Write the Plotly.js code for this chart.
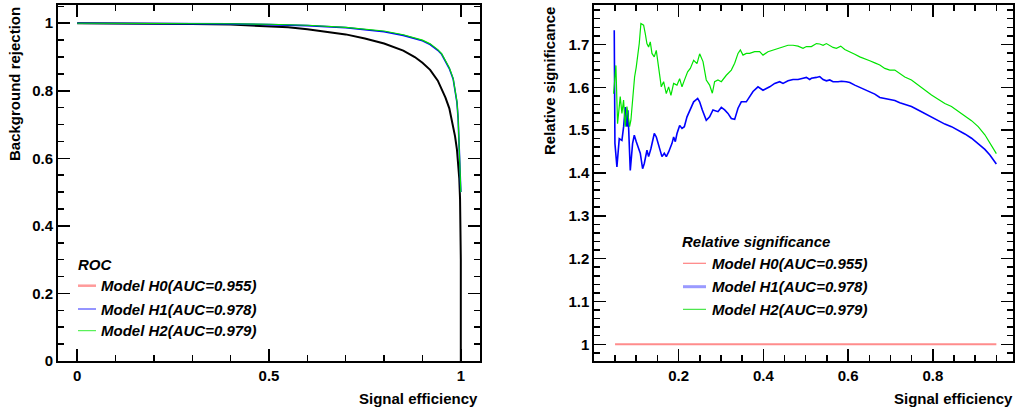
<!DOCTYPE html>
<html>
<head>
<meta charset="utf-8">
<script src="https://cdn.plot.ly/plotly-3.0.1.min.js"></script>
<style>html,body{margin:0;padding:0;background:#fff;}#chart{width:1019px;height:412px;}</style>
</head>
<body>
<div id="chart"></div>
<script>
// ---- data ----
const modelNames = ['Model H0(AUC=0.955)', 'Model H1(AUC=0.978)', 'Model H2(AUC=0.979)'];
const rocLegendTitle = 'ROC';
const sigLegendTitle = 'Relative significance';
const xTitle = 'Signal efficiency';
const rocYTitle = 'Background rejection';
const sigYTitle = 'Relative significance';

// ROC curves (signal efficiency vs background rejection)
const rocH0x = [0, 0.1, 0.2, 0.3, 0.4, 0.5, 0.55, 0.6, 0.65, 0.7, 0.75, 0.8, 0.85, 0.88, 0.9, 0.92, 0.94, 0.95, 0.96, 0.97, 0.975, 0.98, 0.985, 0.99, 0.993, 0.996, 0.998, 1.0, 1.0];
const rocH0y = [1, 0.9999, 0.9995, 0.998, 0.996, 0.992, 0.988, 0.982, 0.975, 0.967, 0.955, 0.94, 0.919, 0.9, 0.883, 0.862, 0.83, 0.806, 0.78, 0.748, 0.722, 0.695, 0.665, 0.625, 0.59, 0.54, 0.48, 0.3, 0];
const rocH1x = [0, 0.1, 0.2, 0.3, 0.4, 0.5, 0.6, 0.7, 0.75, 0.8, 0.85, 0.9, 0.92, 0.94, 0.95, 0.96, 0.97, 0.98, 0.985, 0.99, 0.993, 0.996, 0.998, 1.0];
const rocH1y = [1, 1, 0.9995, 0.999, 0.998, 0.996, 0.993, 0.987, 0.982, 0.975, 0.964, 0.948, 0.937, 0.92, 0.908, 0.888, 0.866, 0.835, 0.80, 0.765, 0.718, 0.64, 0.58, 0.5];
const rocH2x = [0, 0.1, 0.2, 0.3, 0.4, 0.5, 0.6, 0.7, 0.75, 0.8, 0.85, 0.9, 0.92, 0.94, 0.95, 0.96, 0.97, 0.98, 0.985, 0.99, 0.993, 0.996, 0.998, 1.0];
const rocH2y = [1, 1, 0.9996, 0.9992, 0.9985, 0.997, 0.994, 0.988, 0.983, 0.977, 0.966, 0.95, 0.939, 0.922, 0.91, 0.89, 0.868, 0.837, 0.802, 0.767, 0.72, 0.642, 0.582, 0.5];

// Relative significance curves
const sigH0x = [0.05, 0.95];
const sigH0y = [1, 1];
const sigH1x = [0.0481, 0.0497, 0.0544, 0.0599, 0.0662, 0.0702, 0.0741, 0.078, 0.0804, 0.0859, 0.0914, 0.0954, 0.1001, 0.1056, 0.1095, 0.115, 0.119, 0.1253, 0.1292, 0.1347, 0.1426, 0.1474, 0.1513, 0.1607, 0.1662, 0.171, 0.1765, 0.1844, 0.1883, 0.1922, 0.1962, 0.2025, 0.208, 0.2135, 0.2198, 0.2277, 0.2355, 0.245, 0.2496, 0.256, 0.2653, 0.2732, 0.2811, 0.2929, 0.3008, 0.3087, 0.3165, 0.3244, 0.3323, 0.3402, 0.348, 0.3598, 0.3677, 0.3756, 0.3874, 0.3992, 0.4071, 0.415, 0.4268, 0.4386, 0.4465, 0.4583, 0.4701, 0.4819, 0.4937, 0.5016, 0.5094, 0.5134, 0.5253, 0.5331, 0.541, 0.5489, 0.5568, 0.5646, 0.5764, 0.5843, 0.5961, 0.604, 0.6158, 0.6276, 0.6394, 0.6512, 0.6631, 0.6749, 0.6867, 0.6985, 0.7103, 0.7221, 0.7339, 0.7496, 0.7654, 0.7811, 0.7969, 0.8126, 0.8284, 0.8441, 0.8599, 0.8756, 0.8914, 0.9071, 0.9229, 0.9347, 0.9426, 0.95];
const sigH1y = [1.733, 1.469, 1.414, 1.480, 1.476, 1.508, 1.554, 1.508, 1.546, 1.406, 1.469, 1.488, 1.473, 1.457, 1.446, 1.410, 1.422, 1.453, 1.438, 1.457, 1.492, 1.484, 1.469, 1.438, 1.446, 1.438, 1.449, 1.469, 1.484, 1.473, 1.492, 1.511, 1.504, 1.508, 1.531, 1.550, 1.566, 1.574, 1.566, 1.547, 1.523, 1.531, 1.547, 1.543, 1.553, 1.547, 1.539, 1.527, 1.525, 1.551, 1.566, 1.566, 1.578, 1.590, 1.601, 1.593, 1.597, 1.601, 1.609, 1.613, 1.609, 1.615, 1.618, 1.618, 1.621, 1.623, 1.618, 1.621, 1.623, 1.625, 1.618, 1.615, 1.617, 1.613, 1.613, 1.614, 1.613, 1.611, 1.605, 1.600, 1.595, 1.590, 1.584, 1.576, 1.574, 1.572, 1.569, 1.564, 1.560, 1.555, 1.547, 1.539, 1.531, 1.523, 1.514, 1.508, 1.500, 1.491, 1.481, 1.469, 1.455, 1.442, 1.432, 1.421];
const sigH2x = [0.0465, 0.052, 0.0559, 0.0622, 0.0662, 0.0701, 0.074, 0.078, 0.0843, 0.0874, 0.0921, 0.0961, 0.1, 0.104, 0.1071, 0.111, 0.1174, 0.1213, 0.1252, 0.1292, 0.1331, 0.1371, 0.1425, 0.1473, 0.1512, 0.1551, 0.1591, 0.1646, 0.1709, 0.1764, 0.1819, 0.1882, 0.1961, 0.2024, 0.208, 0.2135, 0.2213, 0.2276, 0.2355, 0.2434, 0.2497, 0.2576, 0.2653, 0.2732, 0.2796, 0.285, 0.2929, 0.3008, 0.3126, 0.3244, 0.3323, 0.3402, 0.3457, 0.352, 0.3598, 0.3677, 0.3795, 0.3913, 0.3992, 0.411, 0.4228, 0.4346, 0.4465, 0.4583, 0.4701, 0.4819, 0.4937, 0.5016, 0.5134, 0.5253, 0.5331, 0.541, 0.5489, 0.5568, 0.5646, 0.5725, 0.5827, 0.5922, 0.604, 0.6158, 0.6276, 0.6394, 0.6512, 0.6631, 0.6749, 0.6867, 0.6985, 0.7103, 0.7221, 0.7339, 0.7496, 0.7654, 0.7811, 0.7969, 0.8126, 0.8284, 0.8441, 0.8599, 0.8756, 0.8914, 0.9071, 0.9229, 0.9347, 0.9426, 0.95];
const sigH2y = [1.585, 1.651, 1.515, 1.578, 1.539, 1.570, 1.508, 1.555, 1.508, 1.523, 1.578, 1.624, 1.647, 1.679, 1.702, 1.749, 1.745, 1.725, 1.702, 1.694, 1.706, 1.679, 1.671, 1.686, 1.659, 1.636, 1.601, 1.613, 1.585, 1.601, 1.581, 1.609, 1.605, 1.620, 1.601, 1.616, 1.636, 1.644, 1.663, 1.655, 1.678, 1.660, 1.617, 1.605, 1.586, 1.613, 1.617, 1.613, 1.628, 1.640, 1.656, 1.679, 1.687, 1.675, 1.679, 1.679, 1.683, 1.683, 1.675, 1.683, 1.687, 1.691, 1.695, 1.698, 1.698, 1.696, 1.691, 1.695, 1.695, 1.702, 1.701, 1.698, 1.702, 1.698, 1.693, 1.691, 1.696, 1.688, 1.683, 1.677, 1.671, 1.667, 1.662, 1.657, 1.652, 1.644, 1.640, 1.640, 1.632, 1.624, 1.617, 1.605, 1.593, 1.582, 1.572, 1.562, 1.555, 1.543, 1.533, 1.522, 1.508, 1.489, 1.471, 1.457, 1.445];

// ---- styling ----
const W = 1019, H = 412;
const FONT = 'Liberation Sans, Arial, Helvetica, sans-serif';
const rocColors = ['#000000', '#0000ff', '#00e000'];
const rocLegendColors = ['#ff9a9a', '#2b2bff', '#33ee33'];
const sigColors = ['#ff8c8c', '#0000ff', '#00e400'];
const sigLegendColors = ['#ff8080', '#9a9aff', '#22e022'];

const traces = [
  {x: rocH0x, y: rocH0y, xaxis: 'x', yaxis: 'y', mode: 'lines', name: modelNames[0], line: {color: rocColors[0], width: 2}},
  {x: rocH1x, y: rocH1y, xaxis: 'x', yaxis: 'y', mode: 'lines', name: modelNames[1], line: {color: rocColors[1], width: 1.6}},
  {x: rocH2x, y: rocH2y, xaxis: 'x', yaxis: 'y', mode: 'lines', name: modelNames[2], line: {color: rocColors[2], width: 1.2}},
  {x: sigH0x, y: sigH0y, xaxis: 'x2', yaxis: 'y2', mode: 'lines', name: modelNames[0], line: {color: sigColors[0], width: 2}},
  {x: sigH1x, y: sigH1y, xaxis: 'x2', yaxis: 'y2', mode: 'lines', name: modelNames[1], line: {color: sigColors[1], width: 1.6}},
  {x: sigH2x, y: sigH2y, xaxis: 'x2', yaxis: 'y2', mode: 'lines', name: modelNames[2], line: {color: sigColors[2], width: 1.2}}
];
traces.forEach(t => { t.showlegend = false; t.hoverinfo = 'skip'; });

const px = v => v / W;
const py = v => (H - v) / H;
const yDom = [py(361), py(5)];

function axisBase(extra) {
  return Object.assign({
    showline: true, linewidth: 2, linecolor: '#000', mirror: 'allticks',
    ticks: 'inside', ticklen: 12, tickwidth: 1.5, tickcolor: '#000',
    showgrid: false, zeroline: false, fixedrange: true,
    tickfont: {family: FONT, size: 15, color: '#000', weight: 'bold'}
  }, extra);
}

const layout = {
  width: W, height: H,
  margin: {l: 0, r: 0, t: 0, b: 0},
  paper_bgcolor: '#fff', plot_bgcolor: '#fff',
  showlegend: false,
  xaxis: axisBase({domain: [px(58), px(480)], range: [-0.05, 1.05], tickmode: 'linear', tick0: 0, dtick: 0.5,
    minor: {dtick: 0.1, tick0: 0, ticks: 'inside', ticklen: 6, tickwidth: 1.5, tickcolor: '#000', showgrid: false}, anchor: 'y'}),
  yaxis: axisBase({domain: yDom, range: [0, 1.054], tickmode: 'linear', tick0: 0, dtick: 0.2,
    minor: {dtick: 0.05, tick0: 0, ticks: 'inside', ticklen: 6, tickwidth: 1.5, tickcolor: '#000', showgrid: false}, anchor: 'x'}),
  xaxis2: axisBase({domain: [px(594.3), px(1013.3)], range: [0.001, 0.99], tickmode: 'linear', tick0: 0, dtick: 0.2,
    minor: {dtick: 0.05, tick0: 0, ticks: 'inside', ticklen: 6, tickwidth: 1.5, tickcolor: '#000', showgrid: false}, anchor: 'y2'}),
  yaxis2: axisBase({domain: yDom, range: [0.961, 1.792], tickmode: 'linear', tick0: 1, dtick: 0.1,
    minor: {dtick: 0.02, tick0: 1, ticks: 'inside', ticklen: 6, tickwidth: 1.5, tickcolor: '#000', showgrid: false}, anchor: 'x2'}),
  annotations: [],
  shapes: []
};

const titleFont = {family: FONT, size: 15, color: '#000', weight: 'bold'};
const legFont = {family: FONT, size: 15, color: '#000', weight: 'bold', style: 'italic'};

// axis titles (ROOT style: at the end of the axis)
layout.annotations.push(
  {xref: 'paper', yref: 'paper', x: px(480), y: py(398), xanchor: 'right', yanchor: 'middle', text: xTitle, showarrow: false, font: titleFont},
  {xref: 'paper', yref: 'paper', x: px(1015), y: py(398), xanchor: 'right', yanchor: 'middle', text: xTitle, showarrow: false, font: titleFont},
  {xref: 'paper', yref: 'paper', x: px(14), y: py(5), xanchor: 'center', yanchor: 'top', text: rocYTitle, textangle: -90, showarrow: false, font: titleFont},
  {xref: 'paper', yref: 'paper', x: px(549), y: py(5), xanchor: 'center', yanchor: 'top', text: sigYTitle, textangle: -90, showarrow: false, font: titleFont}
);

// legends drawn as text + sample lines
function addLegend(title, tx, ty, lineX0, lineX1, textX, rows, colors, widths) {
  layout.annotations.push({xref: 'paper', yref: 'paper', x: px(tx), y: py(ty), xanchor: 'left', yanchor: 'middle', text: title, showarrow: false, font: legFont});
  rows.forEach((r, i) => {
    layout.annotations.push({xref: 'paper', yref: 'paper', x: px(textX), y: py(r), xanchor: 'left', yanchor: 'middle', text: modelNames[i], showarrow: false, font: legFont});
    layout.shapes.push({type: 'line', xref: 'paper', yref: 'paper', x0: px(lineX0), x1: px(lineX1), y0: py(r), y1: py(r), line: {color: colors[i], width: widths[i]}});
  });
}
addLegend(rocLegendTitle, 76, 264, 78, 96, 99, [285.7, 309, 330.7], rocLegendColors, [2.5, 1, 1]);
addLegend(sigLegendTitle, 680, 242, 683, 706, 710, [263.3, 286.7, 309.3], sigLegendColors, [1.2, 3, 1]);

Plotly.newPlot('chart', traces, layout, {staticPlot: true, displayModeBar: false});
</script>
</body>
</html>
